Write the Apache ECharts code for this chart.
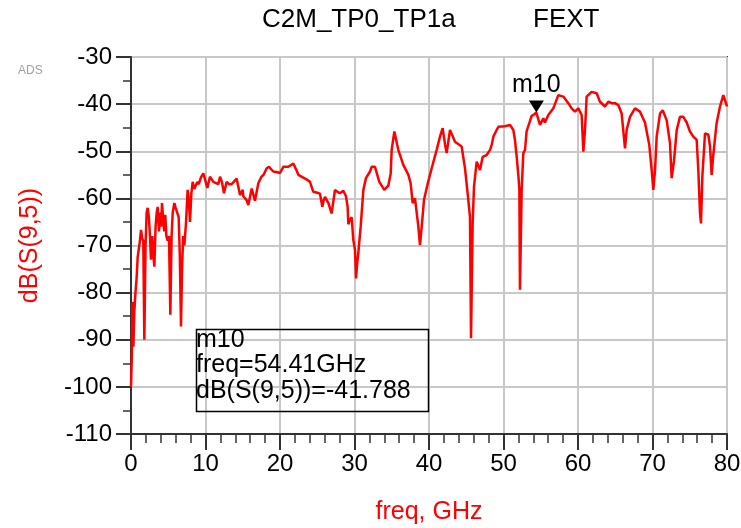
<!DOCTYPE html>
<html>
<head>
<meta charset="utf-8">
<script src="https://cdn.jsdelivr.net/npm/echarts@6/dist/echarts.min.js"></script>
<style>html,body{margin:0;padding:0;background:#fff}#c{width:741px;height:528px}</style>
</head>
<body>
<div id="c"></div>
<script>
// Data
var freqGHz = [0,0.12,0.18,0.25,0.32,0.45,0.6,0.75,0.9,1.05,1.2,1.35,1.5,1.65,1.79,1.95,2.1,2.24,2.4,2.55,2.68,2.85,3.0,3.13,3.3,3.45,3.58,3.75,3.9,4.05,4.16,4.3,4.47,4.6,4.75,4.92,5.1,5.28,5.45,5.6,5.82,6.0,6.2,6.4,6.55,6.71,6.85,7.0,7.16,7.38,7.6,7.75,7.92,8.1,8.28,8.5,8.72,8.9,9.1,9.4,9.71,9.93,10.25,10.6,10.8,11.05,11.3,11.72,11.95,12.2,12.48,12.84,13.2,13.5,13.74,14.18,14.4,14.63,15.0,15.08,15.5,15.75,15.9,16.2,16.42,16.64,17.09,17.5,17.8,18.21,18.52,19.1,19.5,20.0,20.45,21.12,21.5,21.79,22.01,22.2,22.46,23.13,23.6,24.03,24.47,25.0,25.37,25.68,25.85,26.04,26.5,26.71,26.93,27.38,27.7,28.05,28.5,28.85,29.08,29.17,29.4,29.62,29.84,30.07,30.2,30.35,30.51,30.83,31.19,31.54,32.08,32.3,32.75,33.33,34.0,34.54,34.86,34.99,35.35,35.88,36.55,37.23,37.54,37.81,38.12,38.57,38.79,39.02,39.33,39.78,40.36,41.03,41.48,41.83,42.15,42.37,42.82,43.49,44.38,44.83,45.19,45.5,45.64,45.86,46.04,46.4,46.85,47.2,47.74,48.19,48.41,48.64,49.08,49.31,49.44,50.2,50.87,51.1,51.32,51.54,51.77,51.99,52.13,52.21,52.44,52.66,52.89,53.1,53.33,53.78,54.1,54.41,54.9,55.35,55.57,56.02,56.69,57.36,58.03,58.7,59.15,59.6,60.04,60.49,60.72,60.94,61.16,61.83,62.51,62.95,63.62,64.07,64.52,64.97,65.41,65.86,66.31,66.53,66.98,67.65,68.32,68.99,69.57,69.89,70.11,70.34,70.56,71.01,71.37,71.9,72.35,72.57,72.89,73.25,73.69,74.14,74.59,75.03,75.48,75.93,76.15,76.38,76.51,76.69,77.05,77.5,77.72,77.94,78.17,78.61,79.06,79.5,79.95,80];
var dbS95 = [-100,-93,-82,-82.5,-91.5,-84,-80,-77,-72.4,-72,-69,-66.7,-68.5,-69,-90,-70,-63,-62,-64,-68,-73,-68,-72,-74.5,-66,-63,-61.8,-67,-63,-66,-61,-64,-67,-63.5,-68,-69,-68,-84.7,-68,-63,-61,-62,-63,-64,-72,-87.2,-75,-68,-70,-65.3,-58.2,-60,-65,-59,-56.5,-58,-58,-56.5,-57,-55.5,-54.7,-54.7,-57.8,-55.4,-55.4,-56.5,-56.5,-57,-55.4,-56.5,-58.9,-56.5,-57,-57,-56.8,-55.8,-57.5,-59.3,-58.2,-59.6,-60.3,-61.4,-61.2,-57.9,-57.9,-60.5,-56.8,-55.4,-55,-53.6,-53.3,-54.3,-54.4,-54.6,-53.3,-53.3,-52.9,-52.6,-52.5,-54,-55,-55.6,-56,-56.5,-58.6,-58.8,-59,-61.8,-60.5,-59.7,-61,-60.7,-63.2,-58.2,-58.6,-58.9,-58.4,-59.5,-61.8,-65.5,-64.5,-64,-68.8,-71,-77,-74,-71.6,-66,-58.2,-55.7,-54.3,-53.3,-53.3,-56.5,-58.2,-57.3,-54.7,-49.7,-45.8,-49.7,-52.9,-55,-56.8,-61,-60,-66,-69.9,-66,-60.3,-57.2,-53.6,-49.7,-46.9,-45.1,-48.5,-50.4,-45.5,-48,-49,-53.6,-59,-63.9,-89.7,-65.3,-57.5,-52.2,-54,-51.2,-50.8,-49.7,-48.7,-46.9,-45.5,-44.8,-44.6,-44.7,-44.4,-44.4,-45.5,-47.6,-51.2,-55,-58.2,-79.4,-58.2,-50.4,-49.7,-45.8,-45.5,-42.5,-42.2,-41.788,-44.4,-43,-43.9,-42.3,-40.9,-38.1,-38.4,-39.8,-40.9,-41.6,-40.9,-42.3,-50.1,-45.5,-38.4,-37.4,-37.7,-39.5,-40.5,-39.5,-39.8,-39.8,-40.2,-42,-49.4,-45.5,-42.7,-40.9,-41.6,-43.9,-48.7,-54,-58.2,-54,-46.9,-42,-41.3,-43.4,-48.3,-55.7,-52,-45.5,-42.7,-42.7,-43.9,-45.8,-46.9,-47.6,-54,-63.2,-65.3,-55.4,-46.2,-46.5,-49,-55,-50.6,-44,-40.5,-38.1,-40.2,-40.5];
var markerName = 'm10';
var markerFreq = 54.41;
var markerDb = -41.788;
var titleLeft = 'C2M_TP0_TP1a';
var titleRight = 'FEXT';
var xName = 'freq, GHz';
var yName = 'dB(S(9,5))';

var FONT = '"Liberation Sans", Arial, sans-serif';
var curve = freqGHz.map(function (f, i) { return [f, dbS95[i]]; });

var chart = echarts.init(document.getElementById('c'), null, {renderer: 'canvas'});
chart.setOption({
  animation: false,
  backgroundColor: '#fff',
  title: [
    {text: titleLeft, left: 262, top: 7, padding: 0,
     textStyle: {fontFamily: FONT, fontSize: 26, fontWeight: 'normal', color: '#000'}},
    {text: titleRight, left: 533, top: 7, padding: 0,
     textStyle: {fontFamily: FONT, fontSize: 26, fontWeight: 'normal', color: '#000'}},
    {text: 'ADS', left: 18, top: 65, padding: 0,
     textStyle: {fontFamily: FONT, fontSize: 12, fontWeight: 'normal', color: '#a0a0a0'}}
  ],
  grid: {left: 131, right: 14, top: 57, bottom: 94, containLabel: false, outerBoundsMode: 'none',
    show: true, borderColor: '#333', borderWidth: 2, backgroundColor: 'transparent'},
  xAxis: {
    type: 'value', min: 0, max: 80, interval: 10,
    name: xName, nameLocation: 'middle', nameGap: 66,
    nameTextStyle: {fontFamily: FONT, fontSize: 25, color: '#ff0000'},
    axisLine: {show: true, onZero: false, lineStyle: {color: '#333', width: 2}},
    axisTick: {show: true, length: 16, lineStyle: {color: '#333', width: 2}},
    minorTick: {show: true, splitNumber: 5, length: 9, lineStyle: {color: '#333', width: 1.5}},
    axisLabel: {fontFamily: FONT, fontSize: 24, color: '#000', margin: 18},
    splitLine: {show: true, lineStyle: {color: '#c8c8c8', width: 2}}
  },
  yAxis: {
    type: 'value', min: -110, max: -30, interval: 10,
    name: yName, nameLocation: 'middle', nameGap: 88, nameRotate: 90,
    nameTextStyle: {fontFamily: FONT, fontSize: 25, color: '#ff0000'},
    axisLine: {show: true, onZero: false, lineStyle: {color: '#333', width: 2}},
    axisTick: {show: true, length: 15, lineStyle: {color: '#333', width: 2}},
    minorTick: {show: true, splitNumber: 2, length: 8, lineStyle: {color: '#333', width: 1.5}},
    axisLabel: {fontFamily: FONT, fontSize: 24, color: '#000', margin: 19},
    splitLine: {show: true, lineStyle: {color: '#c8c8c8', width: 2}}
  },
  series: [
    {type: 'line', data: curve, showSymbol: false, symbol: 'none',
     lineStyle: {color: '#ff0000', width: 2.5}, z: 3},
    {type: 'scatter', data: [[markerFreq, markerDb]], symbol: 'triangle', symbolRotate: 180,
     symbolSize: [15, 12], symbolOffset: [0, -6], itemStyle: {color: '#000', opacity: 1}, z: 5,
     label: {show: true, position: 'top', distance: 3, formatter: markerName, opacity: 1,
       fontFamily: FONT, fontSize: 25, color: '#000'}}
  ],
  graphic: [
    {type: 'rect', left: 194, top: 327, shape: {width: 232, height: 82},
     style: {fill: 'none', stroke: '#000', lineWidth: 1.5}, z: 10},
    {type: 'text', x: 196, y: 340, style: {text: markerName, font: '25px ' + FONT, fill: '#000', verticalAlign: 'middle'}, z: 10},
    {type: 'text', x: 196, y: 365.5, style: {text: 'freq=' + markerFreq + 'GHz', font: '25px ' + FONT, fill: '#000', verticalAlign: 'middle'}, z: 10},
    {type: 'text', x: 196, y: 391, style: {text: 'dB(S(9,5))=' + markerDb, font: '25px ' + FONT, fill: '#000', verticalAlign: 'middle'}, z: 10}
  ]
});
</script>
</body>
</html>
